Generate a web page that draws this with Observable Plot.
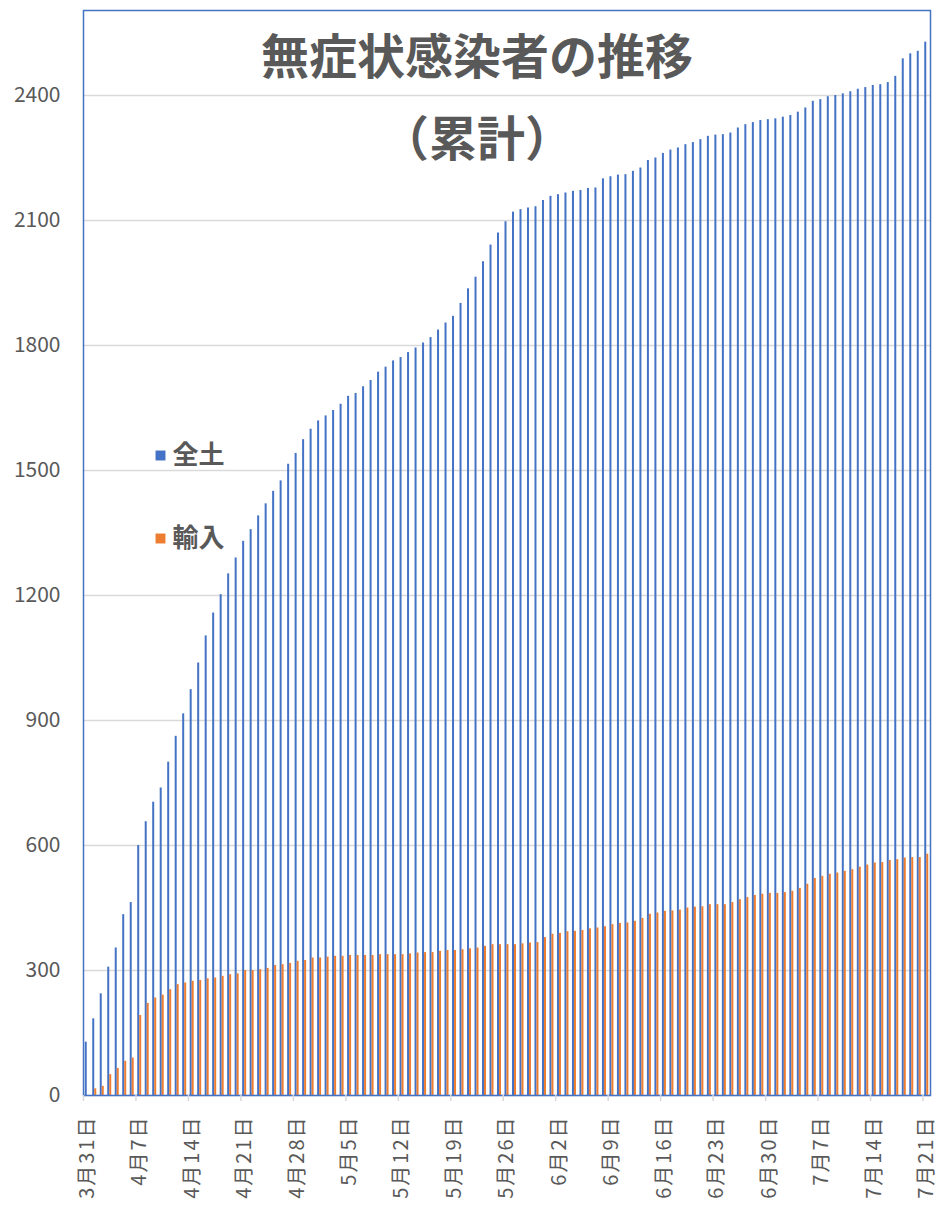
<!DOCTYPE html>
<html><head><meta charset="utf-8">
<script src="https://cdn.jsdelivr.net/npm/d3@7"></script>
<script src="https://cdn.jsdelivr.net/npm/@observablehq/plot@0.6"></script>
<style>
html,body{margin:0;padding:0;background:#fff;}
#chart{width:945px;height:1212px;}
g[aria-label="x-axis tick label"] text{letter-spacing:2px;}
</style></head><body><div id="chart"></div>
<script>
const startDate = "2020-03-31";
const seriesNames = ["全土", "輸入"];
const seriesColors = ["#4472C4", "#ED7D31"];
const titleLines = ["無症状感染者の推移", "（累計）"];
const yTicks = [0, 300, 600, 900, 1200, 1500, 1800, 2100, 2400];
const yMax = 2604;
const labelEvery = 7;

const total = [128,184,244,308,354,434,463,600,657,704,738,800,862,916,974,1038,1103,1158,1202,1252,1290,
1330,1358,1391,1420,1450,1475,1515,1541,1574,1599,1619,1631,1644,1659,1678,1685,1701,1716,1736,1748,1763,1771,1783,
1794,1806,1819,1837,1854,1870,1901,1936,1964,2001,2041,2070,2097,2120,2126,2130,2133,2148,2158,2162,2166,
2170,2172,2177,2178,2200,2205,2209,2210,2218,2226,2244,2250,2261,2269,2274,2282,2287,2294,2302,2305,2306,2310,2322,2330,
2335,2340,2342,2344,2348,2352,2360,2370,2386,2390,2397,2400,2404,2409,2415,2419,2424,2426,2431,2446,2488,2500,2506,2528];

const imported = [0,16,22,50,65,82,90,192,221,234,241,254,266,270,274,276,280,282,286,290,292,
300,300,302,305,312,314,317,322,324,330,330,332,334,334,336,336,336,336,338,338,338,338,340,
342,343,343,346,348,348,350,352,354,358,362,362,362,362,364,366,367,379,387,389,393,
394,396,400,402,405,410,413,414,418,425,435,438,442,443,445,450,452,453,458,458,458,463,470,475,
480,483,485,485,487,490,497,507,521,526,531,534,538,542,548,553,558,559,564,566,570,571,571,579];

const start = d3.utcParse("%Y-%m-%d")(startDate);
const dates = total.map((_, i) => d3.utcDay.offset(start, i));
const dayLabel = d => `${d.getUTCMonth() + 1}月${d.getUTCDate()}日`;
const data = total.map((v, i) => ({i, total: v, imported: imported[i]}));
const tickIdx = data.map(d => d.i).filter(i => i % labelEvery === 0);

const font = "'Noto Sans CJK JP', 'Noto Sans', sans-serif";
const gray = "#595959";
const legendDy = [445, 528];

const chart = Plot.plot({
  width: 945, height: 1212,
  marginLeft: 83, marginRight: 15, marginTop: 10, marginBottom: 117,
  style: {fontFamily: font, background: "#fff", overflow: "visible"},
  x: {type: "band", domain: data.map(d => d.i), padding: 0, axis: null},
  y: {domain: [0, yMax], axis: null},
  marks: [
    Plot.gridY(yTicks, {stroke: "#d9d9d9", strokeOpacity: 1, strokeWidth: 1.5}),
    Plot.barY(data, {x: "i", y: "total", fill: seriesColors[0], insetLeft: 1.75, insetRight: 3.75}),
    Plot.barY(data, {x: "i", y: "imported", fill: seriesColors[1], insetLeft: 3.75, insetRight: 1.75}),
    Plot.frame({stroke: "#4472C4", strokeWidth: 1.5}),
    Plot.axisY(yTicks, {tickSize: 0, tickPadding: 23, fontSize: 21, color: gray, tickFormat: d => String(d), label: null}),
    Plot.axisX(tickIdx, {tickSize: 6, tickFormat: () => "", color: "#d9d9d9", strokeWidth: 1.5, dx: -3.75, label: null}),
    Plot.axisX(tickIdx, {tickSize: 0, tickPadding: 20, tickRotate: -90, tickFormat: i => dayLabel(dates[i]), fontSize: 20, color: gray, label: null}),
    Plot.text([titleLines[0]], {frameAnchor: "top", dx: -30, dy: 48, text: d => d, fontSize: 48, fontWeight: "bold", fill: gray, lineAnchor: "middle"}),
    Plot.text([titleLines[1]], {frameAnchor: "top", dx: -30, dy: 130, text: d => d, fontSize: 48, fontWeight: "bold", fill: gray, lineAnchor: "middle"}),
    ...seriesNames.flatMap((name, k) => [
      Plot.dot([name], {frameAnchor: "top-left", dx: 77, dy: legendDy[k], symbol: "square", r: 5.6, fill: seriesColors[k], stroke: null}),
      Plot.text([name], {frameAnchor: "top-left", dx: 89, dy: legendDy[k], text: d => d, textAnchor: "start", lineAnchor: "middle", fontSize: 26, fontWeight: "bold", fill: gray})
    ])
  ]
});
document.getElementById("chart").appendChild(chart);
</script>
</body></html>
